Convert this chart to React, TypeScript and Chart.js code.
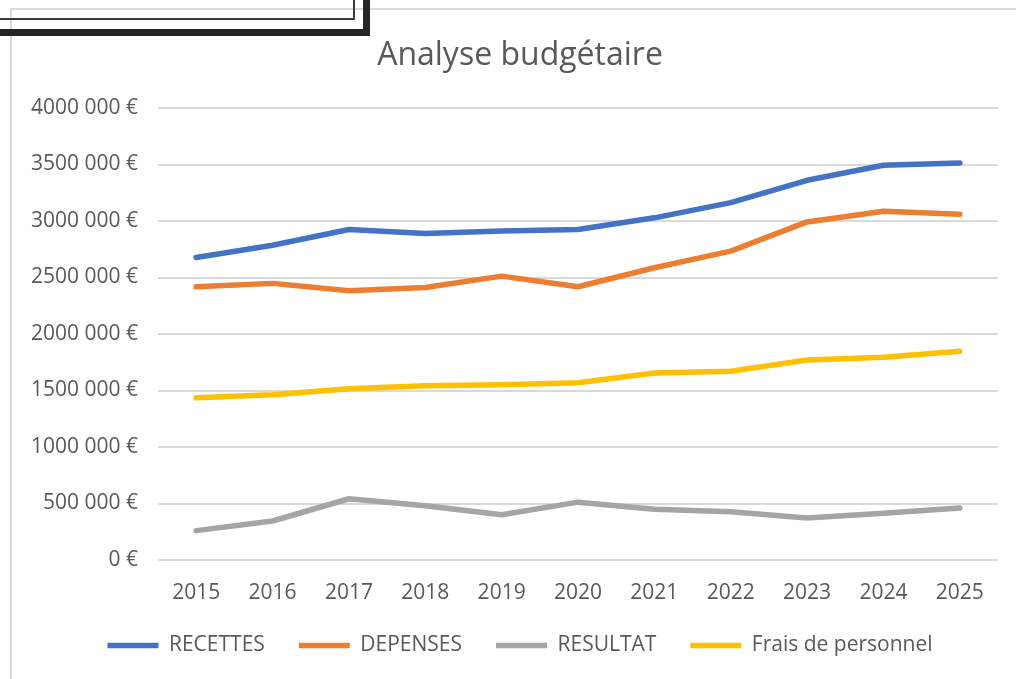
import React, { useEffect, useRef } from "react";
import { Chart, registerables } from "chart.js";

Chart.register(...registerables);

const years = ["2015", "2016", "2017", "2018", "2019", "2020", "2021", "2022", "2023", "2024", "2025"];
const recettes = [2677000, 2786000, 2925000, 2890000, 2912000, 2925000, 3028000, 3163000, 3360000, 3493000, 3514000];
const depenses = [2418000, 2448000, 2383000, 2412000, 2512000, 2418000, 2586000, 2733000, 2992000, 3087000, 3060000];
const resultat = [260000, 345000, 542000, 480000, 401000, 512000, 450000, 428000, 372000, 414000, 460000];
const fraisPersonnel = [1435000, 1462000, 1515000, 1541000, 1550000, 1568000, 1655000, 1670000, 1770000, 1794000, 1847000];
const yTickValues = [0, 500000, 1000000, 1500000, 2000000, 2500000, 3000000, 3500000, 4000000];
const yTickLabels = ["0 €", "500 000 €", "1000 000 €", "1500 000 €", "2000 000 €", "2500 000 €", "3000 000 €", "3500 000 €", "4000 000 €"];

const FONT = "'Open Sans', 'Liberation Sans', sans-serif";
const TEXT = "#595959";

export default function App() {
  const ref = useRef<HTMLCanvasElement | null>(null);

  useEffect(() => {
    if (!ref.current) return;
    const mk = (label: string, data: number[], color: string) => ({
      label,
      data,
      yAxisID: "y",
      borderColor: color,
      backgroundColor: color,
      borderWidth: 5.5,
      borderCapStyle: "round" as const,
      borderJoinStyle: "round" as const,
      pointRadius: 0,
      pointHoverRadius: 0,
      pointStyle: "line" as const,
      tension: 0,
      fill: false,
    });
    const chart = new Chart(ref.current, {
      type: "line",
      data: {
        labels: years,
        datasets: [
          mk("RECETTES", recettes, "#4472C4"),
          mk("DEPENSES", depenses, "#ED7D31"),
          mk("RESULTAT", resultat, "#A5A5A5"),
          mk("Frais de personnel", fraisPersonnel, "#FFC000"),
        ],
      },
      options: {
        responsive: false,
        animation: false,
        events: [],
        layout: { padding: { left: 0, right: 0, top: 0, bottom: 13 } },
        plugins: {
          title: {
            display: true,
            text: "Analyse budgétaire",
            color: TEXT,
            font: { family: FONT, size: 32, weight: "normal", lineHeight: 1.2 },
            padding: { top: 36.8, bottom: 32.8 },
          },
          legend: {
            display: true,
            position: "bottom",
            labels: {
              usePointStyle: true,
              pointStyleWidth: 51,
              color: TEXT,
              font: { family: FONT, size: 21 },
              padding: 34,
            },
          },
          tooltip: { enabled: false },
        },
        scales: {
          x: {
            grid: { display: false },
            border: { display: false },
            offset: true,
            ticks: {
              color: TEXT,
              font: { family: FONT, size: 21, lineHeight: 1.2 },
              mirror: true,
              padding: -45.6,
              maxRotation: 0,
              autoSkip: false,
            },
            afterFit: (s: any) => {
              s.height = 41;
            },
          },
          y: {
            position: "left",
            min: 0,
            max: 4000000,
            grid: { color: "#d9d9d9", lineWidth: 2, drawTicks: false },
            border: { display: false },
            afterBuildTicks: (s: any) => {
              s.ticks = yTickValues.map((v) => ({ value: v }));
            },
            ticks: {
              color: TEXT,
              font: { family: FONT, size: 21 },
              padding: 20,
              callback: (_v: any, i: number) => yTickLabels[i],
            },
            afterFit: (s: any) => {
              s.width = 158;
            },
          },
          yR: {
            type: "linear",
            position: "right",
            display: true,
            grid: { display: false },
            border: { display: false },
            ticks: { display: false },
            afterFit: (s: any) => {
              s.width = 42;
            },
          },
        },
      },
    });
    return () => chart.destroy();
  }, []);

  return (
    <div style={{ position: "absolute", left: 0, top: 0, width: 1016, height: 679, overflow: "hidden", background: "#fff" }}>
      <div
        style={{
          position: "absolute",
          left: 10,
          top: 8,
          width: 1016,
          height: 700,
          borderTop: "2px solid #d9d9d9",
          borderLeft: "2px solid #d9d9d9",
        }}
      />
      <canvas ref={ref} width={1040} height={679} style={{ position: "absolute", left: 0, top: 0 }} />
      <div style={{ position: "absolute", left: 0, top: 18, width: 355, height: 2, background: "#3a3a3a" }} />
      <div style={{ position: "absolute", left: 353, top: 0, width: 2, height: 20, background: "#3a3a3a" }} />
      <div style={{ position: "absolute", left: 0, top: 29, width: 370, height: 7, background: "#262626" }} />
      <div style={{ position: "absolute", left: 363, top: 0, width: 7, height: 36, background: "#262626" }} />
    </div>
  );
}
